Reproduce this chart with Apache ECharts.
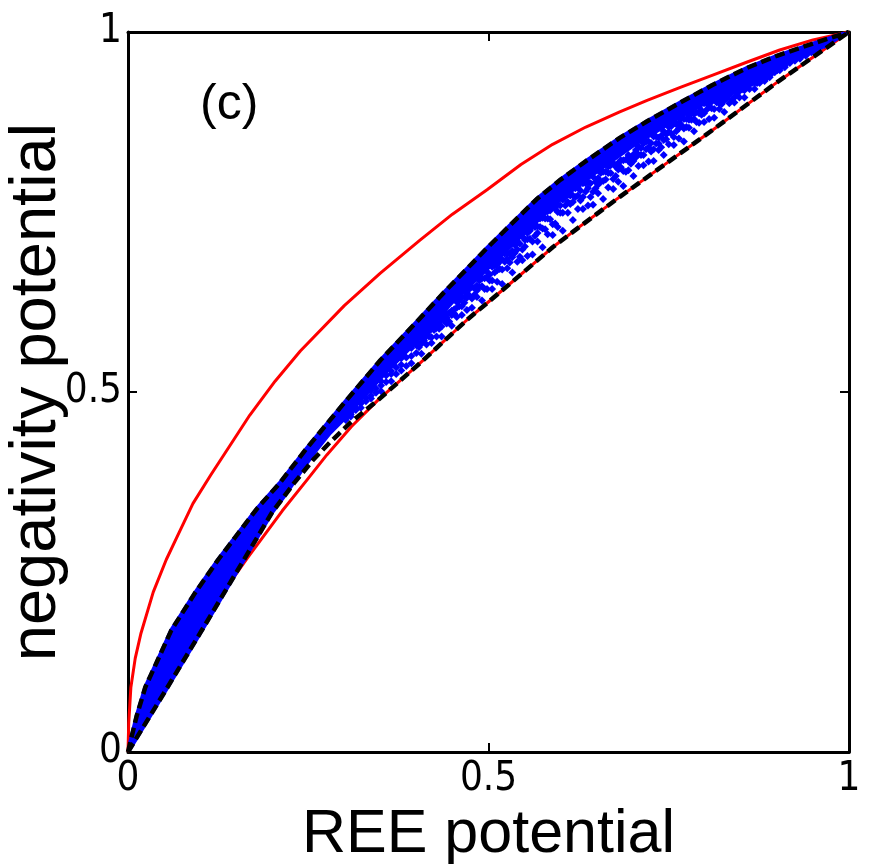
<!DOCTYPE html>
<html>
<head>
<meta charset="utf-8">
<script src="https://cdn.jsdelivr.net/npm/echarts@6/dist/echarts.min.js"></script>
<style>
html, body { margin: 0; padding: 0; background: #fff; }
#chart { width: 869px; height: 864px; }
</style>
</head>
<body>
<div id="chart"></div>
<script>
var FONT = 'Liberation Sans, Arial, Helvetica, sans-serif';
var TICK_FONT = '"Liberation Sans Narrow", "DejaVu Sans Condensed", "Liberation Sans", Arial, sans-serif';

// axis ticks: min, step, max
var tickValues = [0, 0.5, 1];

// upper red bound
var upperRed = [[0,0],[0.001,0.04],[0.004,0.09],[0.01,0.13],[0.018,0.165],[0.035,0.222],[0.053,0.267],
	[0.07,0.303],[0.09,0.345],[0.115,0.385],[0.141,0.425],[0.169,0.468],[0.204,0.515],[0.239,0.557],
	[0.3,0.62],[0.35,0.665],[0.405,0.711],[0.45,0.747],[0.498,0.781],[0.545,0.816],[0.589,0.844],
	[0.635,0.868],[0.682,0.889],[0.72,0.905],[0.766,0.923],[0.811,0.94],[0.858,0.958],[0.904,0.975],
	[0.95,0.989],[1,1]];

// lower red bound
var lowerRed = [[0,0],[0.03,0.052],[0.051,0.085],[0.086,0.148],[0.115,0.193],[0.132,0.222],[0.166,0.27],
	[0.214,0.335],[0.25,0.38],[0.276,0.413],[0.31,0.452],[0.347,0.489],[0.405,0.54],[0.47,0.6],
	[0.52,0.642],[0.589,0.701],[0.627,0.73],[0.682,0.771],[0.75,0.82],[0.811,0.864],[0.9,0.93],
	[0.95,0.965],[1,1]];

// black dashed bounds
var upperDash = [[0,0],[0.004,0.017],[0.012,0.05],[0.024,0.09],[0.04,0.125],[0.06,0.169],[0.093,0.221],
	[0.125,0.267],[0.15,0.3],[0.179,0.338],[0.21,0.373],[0.248,0.422],[0.3,0.485],[0.35,0.544],
	[0.4,0.597],[0.437,0.637],[0.47,0.671],[0.498,0.7],[0.567,0.768],[0.6,0.795],[0.637,0.822],
	[0.682,0.853],[0.72,0.876],[0.766,0.902],[0.81,0.926],[0.858,0.95],[0.9,0.967],[0.95,0.984],[1,1]];

var lowerDash = [[0,0],[0.05,0.082],[0.1,0.165],[0.15,0.249],[0.2,0.333],[0.23,0.373],[0.257,0.406],
	[0.28,0.43],[0.308,0.457],[0.347,0.489],[0.405,0.54],[0.47,0.6],[0.52,0.642],[0.589,0.701],
	[0.627,0.73],[0.682,0.771],[0.75,0.82],[0.811,0.864],[0.9,0.93],[0.95,0.965],[1,1]];

// lower edge of the solid part of the point cloud (its top edge is upperDash)
var cloudBottom = [[0,0],[0.05,0.082],[0.1,0.165],[0.15,0.249],[0.2,0.333],[0.22,0.36],[0.24,0.39],
	[0.26,0.418],[0.28,0.443],[0.3,0.463],[0.33,0.497],[0.36,0.53],[0.4,0.57],[0.45,0.625],[0.5,0.673],
	[0.55,0.721],[0.6,0.768],[0.65,0.806],[0.7,0.842],[0.75,0.873],[0.8,0.902],[0.85,0.928],[0.9,0.951],
	[0.95,0.972],[1,1]];

// scattered points below the solid part
var cloudPoints = [
	[0.302,0.461],[0.302,0.464],[0.309,0.469],[0.309,0.472],[0.309,0.466],[0.316,0.478],[0.316,0.475],
	[0.323,0.484],[0.323,0.478],[0.323,0.487],[0.33,0.487],[0.33,0.492],[0.337,0.502],[0.337,0.495],
	[0.337,0.491],[0.344,0.505],[0.344,0.499],[0.351,0.515],[0.351,0.509],[0.351,0.501],[0.358,0.514],
	[0.358,0.523],[0.365,0.515],[0.365,0.525],[0.365,0.529],[0.372,0.534],[0.372,0.525],[0.379,0.538],
	[0.379,0.547],[0.379,0.53],[0.386,0.536],[0.386,0.548],[0.393,0.55],[0.393,0.561],[0.393,0.54],
	[0.4,0.565],[0.4,0.554],[0.407,0.567],[0.407,0.553],[0.407,0.575],[0.414,0.566],[0.414,0.578],
	[0.421,0.59],[0.421,0.576],[0.421,0.568],[0.428,0.589],[0.428,0.577],[0.428,0.595],[0.435,0.601],
	[0.435,0.591],[0.435,0.577],[0.442,0.595],[0.442,0.609],[0.442,0.603],[0.449,0.592],[0.449,0.607],
	[0.449,0.613],[0.456,0.617],[0.456,0.604],[0.456,0.625],[0.463,0.619],[0.463,0.632],[0.463,0.607],
	[0.47,0.614],[0.47,0.631],[0.47,0.637],[0.477,0.63],[0.477,0.646],[0.477,0.617],[0.484,0.648],
	[0.484,0.632],[0.484,0.641],[0.491,0.647],[0.491,0.627],[0.491,0.658],[0.498,0.643],[0.498,0.66],
	[0.498,0.667],[0.505,0.674],[0.505,0.655],[0.505,0.643],[0.512,0.669],[0.512,0.653],[0.512,0.677],
	[0.519,0.684],[0.519,0.67],[0.519,0.65],[0.526,0.672],[0.526,0.693],[0.526,0.685],[0.533,0.666],
	[0.533,0.687],[0.533,0.696],[0.54,0.698],[0.54,0.681],[0.54,0.709],[0.547,0.698],[0.547,0.716],
	[0.547,0.683],[0.554,0.689],[0.554,0.712],[0.554,0.721],[0.561,0.709],[0.561,0.73],[0.561,0.691],
	[0.568,0.73],[0.568,0.709],[0.568,0.721],[0.575,0.727],[0.575,0.701],[0.575,0.742],[0.582,0.719],
	[0.582,0.741],[0.582,0.751],[0.589,0.758],[0.589,0.733],[0.589,0.718],[0.596,0.75],[0.596,0.729],
	[0.596,0.76],[0.603,0.767],[0.603,0.749],[0.603,0.724],[0.61,0.749],[0.61,0.774],[0.61,0.764],
	[0.617,0.739],[0.617,0.764],[0.617,0.773],[0.624,0.773],[0.624,0.754],[0.624,0.785],[0.631,0.771],
	[0.631,0.79],[0.631,0.754],[0.638,0.759],[0.638,0.783],[0.638,0.792],[0.645,0.778],[0.645,0.799],
	[0.645,0.76],[0.652,0.797],[0.652,0.776],[0.652,0.788],[0.659,0.793],[0.659,0.768],[0.659,0.806],
	[0.666,0.784],[0.666,0.804],[0.666,0.813],[0.673,0.818],[0.673,0.796],[0.673,0.782],[0.68,0.809],
	[0.68,0.792],[0.68,0.818],[0.687,0.822],[0.687,0.807],[0.687,0.786],[0.694,0.808],[0.694,0.829],
	[0.694,0.821],[0.701,0.8],[0.701,0.821],[0.701,0.83],[0.708,0.83],[0.708,0.814],[0.708,0.841],
	[0.715,0.829],[0.715,0.845],[0.715,0.815],[0.722,0.82],[0.722,0.84],[0.722,0.848],[0.729,0.837],
	[0.729,0.855],[0.729,0.821],[0.736,0.853],[0.736,0.836],[0.736,0.845],[0.743,0.85],[0.743,0.829],
	[0.743,0.862],[0.75,0.844],[0.75,0.861],[0.75,0.868],[0.757,0.873],[0.757,0.854],[0.757,0.843],
	[0.764,0.866],[0.764,0.852],[0.764,0.874],[0.771,0.879],[0.771,0.866],[0.771,0.848],[0.778,0.867],
	[0.778,0.885],[0.778,0.878],[0.785,0.862],[0.785,0.879],[0.785,0.886],[0.792,0.887],[0.792,0.874],
	[0.792,0.896],[0.799,0.887],[0.799,0.901],[0.799,0.875],[0.806,0.879],[0.806,0.896],[0.806,0.902],
	[0.813,0.893],[0.813,0.908],[0.813,0.881],[0.82,0.907],[0.82,0.893],[0.82,0.901],[0.827,0.905],
	[0.827,0.889],[0.827,0.913],[0.834,0.901],[0.834,0.913],[0.834,0.918],[0.841,0.921],[0.841,0.909],
	[0.841,0.902],[0.848,0.918],[0.848,0.909],[0.848,0.922],[0.855,0.926],[0.855,0.919],[0.855,0.909],
	[0.862,0.921],[0.862,0.93],[0.862,0.927],[0.869,0.921],[0.869,0.929],[0.869,0.932],[0.876,0.934],
	[0.876,0.929],[0.876,0.938],[0.883,0.936],[0.883,0.941],[0.883,0.932],[0.89,0.937],[0.89,0.942],
	[0.89,0.944],[0.897,0.944],[0.897,0.948],[0.904,0.95],[0.904,0.947],[0.911,0.953],[0.911,0.951],
	[0.918,0.957],[0.925,0.96],[0.932,0.963],[0.94,0.967],[0.948,0.972],[0.957,0.977],[0.966,0.982],
	// second, denser layer in the upper half of the spread
	[0.4035,0.567],[0.4035,0.562],[0.4105,0.578],[0.4105,0.572],[0.4175,0.577],[0.4175,0.584],
	[0.4245,0.586],[0.4245,0.593],[0.4315,0.596],[0.4315,0.588],[0.4385,0.599],[0.4385,0.606],
	[0.4455,0.598],[0.4455,0.61],[0.4525,0.615],[0.4525,0.609],[0.4595,0.627],[0.4595,0.619],
	[0.4665,0.624],[0.4665,0.632],[0.4735,0.634],[0.4735,0.643],[0.4805,0.644],[0.4805,0.635],
	[0.4875,0.646],[0.4875,0.655],[0.4945,0.643],[0.4945,0.658],[0.5015,0.663],[0.5015,0.655],
	[0.5085,0.676],[0.5085,0.666],[0.5155,0.671],[0.5155,0.681],[0.5225,0.681],[0.5225,0.692],
	[0.5295,0.692],[0.5295,0.68],[0.5365,0.693],[0.5365,0.704],[0.5435,0.688],[0.5435,0.706],
	[0.5505,0.711],[0.5505,0.702],[0.5575,0.724],[0.5575,0.713],[0.5645,0.717],[0.5645,0.729],
	[0.5715,0.729],[0.5715,0.741],[0.5785,0.741],[0.5785,0.726],[0.5855,0.74],[0.5855,0.752],
	[0.5925,0.734],[0.5925,0.754],[0.5995,0.759],[0.5995,0.749],[0.6065,0.771],[0.6065,0.759],
	[0.6135,0.761],[0.6135,0.773],[0.6205,0.771],[0.6205,0.783],[0.6275,0.78],[0.6275,0.766],
	[0.6345,0.778],[0.6345,0.79],[0.6415,0.771],[0.6415,0.79],[0.6485,0.792],[0.6485,0.783],
	[0.6555,0.804],[0.6555,0.792],[0.6625,0.795],[0.6625,0.806],[0.6695,0.804],[0.6695,0.815],
	[0.6765,0.813],[0.6765,0.8],[0.6835,0.812],[0.6835,0.822],[0.6905,0.806],[0.6905,0.823],
	[0.6975,0.825],[0.6975,0.817],[0.7045,0.836],[0.7045,0.826],[0.7115,0.829],[0.7115,0.839],
	[0.7185,0.837],[0.7185,0.848],[0.7255,0.846],[0.7255,0.834],[0.7325,0.845],[0.7325,0.855],
	[0.7395,0.84],[0.7395,0.856],[0.7465,0.858],[0.7465,0.851],[0.7535,0.869],[0.7535,0.859],
	[0.7605,0.862],[0.7605,0.872],[0.7675,0.871],[0.7675,0.88],[0.7745,0.879],[0.7745,0.868],
	[0.7815,0.878],[0.7815,0.887],[0.7885,0.875],[0.7885,0.889],[0.7955,0.891],[0.7955,0.885],
	[0.8025,0.901],[0.8025,0.892],[0.8095,0.894],[0.8095,0.903],[0.8165,0.902],[0.8165,0.909],
	[0.8235,0.908],[0.8235,0.9],[0.8305,0.908],[0.8305,0.915],[0.8375,0.906],[0.8375,0.916],
	[0.8445,0.918],[0.8445,0.914],[0.8515,0.925],[0.8515,0.92],[0.8585,0.923],[0.8585,0.928],
	[0.8655,0.929],[0.8655,0.933],[0.8725,0.934],[0.8725,0.929],[0.8795,0.936],[0.8795,0.939],
	[0.8865,0.937],[0.8865,0.941],[0.8935,0.945],[0.8935,0.943],[0.9005,0.949],[0.9005,0.947]
];

var chart = echarts.init(document.getElementById('chart'));

function lineSeries(data, color, width, dash, z) {
	return {
		type : 'line',
		data : data,
		showSymbol : false,
		smooth : false,
		silent : true,
		z : z,
		lineStyle : { color : color, width : width, type : dash ? [10, 5] : 'solid', cap : 'butt', join : 'round' }
	};
}

var axisCommon = {
	type : 'value',
	min : tickValues[0],
	max : tickValues[2],
	interval : tickValues[1],
	splitLine : { show : false },
	axisLine : { show : true, onZero : false, lineStyle : { color : '#000', width : 3 } },
	axisTick : { show : true, inside : true, length : 9, lineStyle : { color : '#000', width : 2 } }
};

chart.setOption({
	backgroundColor : '#fff',
	animation : false,
	grid : { left : 128, right : 20, top : 32, bottom : 112, outerBoundsMode : 'none', containLabel : false },
	xAxis : [
		echarts.util.merge({
			position : 'bottom',
			name : 'REE potential',
			nameLocation : 'middle',
			nameGap : 38,
			nameTextStyle : { fontSize : 61, color : '#000', fontFamily : FONT },
			axisLabel : { fontSize : 40, color : '#000', fontFamily : TICK_FONT, margin : 8 }
		}, axisCommon),
		echarts.util.merge({ position : 'top', axisLabel : { show : false } }, axisCommon)
	],
	yAxis : [
		echarts.util.merge({
			position : 'left',
			name : 'negativity potential',
			nameLocation : 'middle',
			nameGap : 58,
			nameMoveOverlap : false,
			nameTextStyle : { fontSize : 65, color : '#000', fontFamily : FONT },
			axisLabel : { fontSize : 40, color : '#000', fontFamily : TICK_FONT, margin : 6 }
		}, axisCommon),
		echarts.util.merge({ position : 'right', axisLabel : { show : false } }, axisCommon)
	],
	graphic : [{
		type : 'text',
		left : 200,
		top : 80,
		style : { text : '(c)', fontSize : 50, fill : '#000', fontFamily : FONT }
	}],
	series : [
		lineSeries(upperRed, '#ff0000', 3, false, 1),
		lineSeries(lowerRed, '#ff0000', 3, false, 1),
		{
			type : 'custom',
			silent : true,
			z : 2,
			clip : true,
			data : [[0, 0]],
			renderItem : function(params, api) {
				var pts = [];
				for (var i = 0; i < upperDash.length; i++) {
					pts.push(api.coord(upperDash[i]));
				}
				for (var j = cloudBottom.length - 1; j >= 0; j--) {
					pts.push(api.coord(cloudBottom[j]));
				}
				return {
					type : 'polygon',
					shape : { points : pts },
					style : { fill : '#0000ff', stroke : '#0000ff', lineWidth : 4 }
				};
			}
		},
		{
			type : 'scatter',
			data : cloudPoints,
			symbol : 'diamond',
			symbolSize : 8,
			silent : true,
			z : 3,
			itemStyle : { color : '#0000ff', opacity : 1 }
		},
		lineSeries(upperDash, '#000', 4.5, true, 4),
		lineSeries(lowerDash, '#000', 4.5, true, 4)
	]
});
</script>
</body>
</html>
